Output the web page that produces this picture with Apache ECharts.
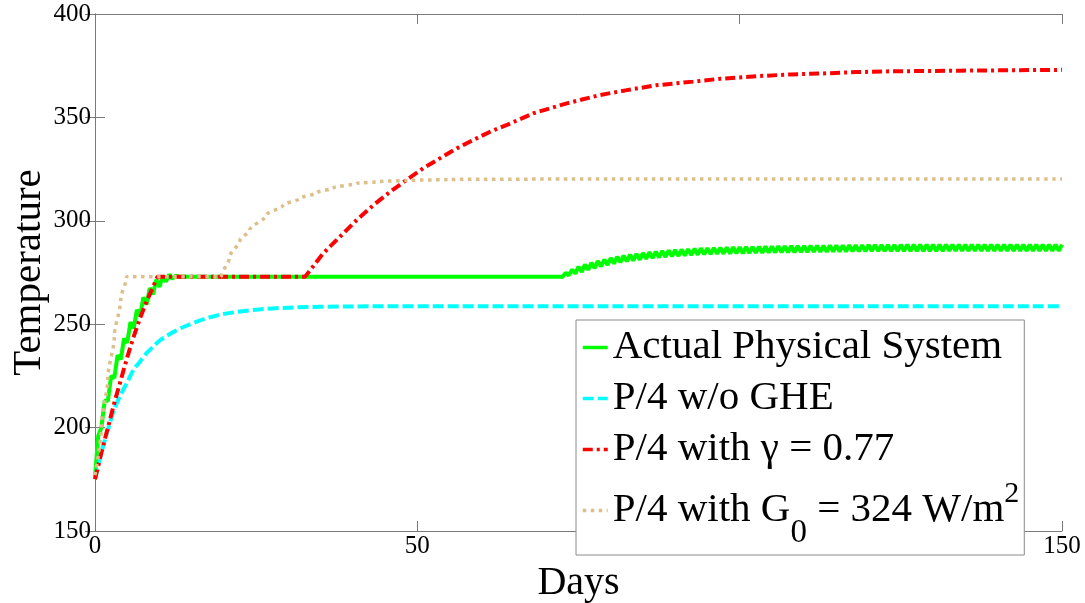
<!DOCTYPE html>
<html>
<head>
<meta charset="utf-8">
<script src="https://cdn.jsdelivr.net/npm/echarts@6/dist/echarts.min.js"></script>
<style>
  html, body { margin: 0; padding: 0; background: #fff; }
  #chart { width: 1085px; height: 603px; }
</style>
</head>
<body>
<div id="chart"></div>
<script>
// series names
const nameActual = 'Actual Physical System'
const nameNoGhe = 'P/4 w/o GHE'
const nameGamma = 'P/4 with γ = 0.77'
const nameG0 = 'P/4 with G₀ = 324 W/m²'

// actual system: daily wiggle during warm-up, flat at 273, then wiggle again
const greenEarlyDays = [0, 0.5, 1, 1.5, 2, 2.5, 3, 3.5, 4, 4.5, 5, 5.5, 6, 6.5, 7, 7.5, 8, 8.5, 9, 9.5, 10, 10.5, 11, 11.5, 12, 12.5, 13]
const greenEarlyTemps = [176, 196, 200, 213, 213, 225, 224, 235, 233, 243, 241, 251, 248, 257, 254, 263, 259.5, 267.5, 264.5, 271.5, 268, 273.5, 270.5, 274, 272, 273.5, 273]
const greenLateStart = 72
// peaks at whole days 72..150
const greenLatePeaks = [
  273.0, 274.8, 276.4, 277.8, 278.8, 279.7, 280.5, 281.3, 282.0, 282.6,
  283.1, 283.6, 284.0, 284.4, 284.8, 285.1, 285.4, 285.7, 285.9, 286.1,
  286.3, 286.5, 286.7, 286.8, 286.9, 287.0, 287.1, 287.2, 287.3, 287.4,
  287.4, 287.5, 287.6, 287.6, 287.7, 287.7, 287.8, 287.9, 287.9, 288.0,
  288.0, 288.0, 288.1, 288.1, 288.1, 288.2, 288.2, 288.2, 288.3, 288.3,
  288.3, 288.3, 288.3, 288.4, 288.4, 288.4, 288.4, 288.4, 288.4, 288.4,
  288.5, 288.5, 288.5, 288.5, 288.5, 288.5, 288.5, 288.5, 288.5, 288.5,
  288.5, 288.5, 288.5, 288.5, 288.5, 288.5, 288.5, 288.5, 288.5
]
// troughs at half days 72.5..149.5
const greenLateTroughs = [
  272.8, 273.6, 274.5, 275.3, 276.3, 277.1, 277.9, 278.7, 279.3, 279.9,
  280.4, 280.8, 281.2, 281.6, 282.0, 282.3, 282.5, 282.8, 283.0, 283.2,
  283.4, 283.6, 283.8, 283.9, 284.0, 284.1, 284.2, 284.3, 284.3, 284.4,
  284.5, 284.5, 284.6, 284.7, 284.7, 284.8, 284.8, 284.9, 284.9, 285.0,
  285.0, 285.0, 285.1, 285.1, 285.1, 285.2, 285.2, 285.2, 285.3, 285.3,
  285.3, 285.3, 285.3, 285.4, 285.4, 285.4, 285.4, 285.4, 285.4, 285.4,
  285.5, 285.5, 285.5, 285.5, 285.5, 285.5, 285.5, 285.5, 285.5, 285.5,
  285.5, 285.5, 285.5, 285.5, 285.5, 285.5, 285.5, 285.5
]

// P/4 without greenhouse effect
const cyanDays = [0, 1, 2, 3, 4, 5, 6, 7, 8, 9, 10, 12, 14, 16, 18, 20, 25, 30, 40, 60, 150]
const cyanTemps = [175, 188, 199, 209, 216, 222, 228, 232, 236, 239, 242, 246, 249, 251.5, 253.5, 255, 257, 258, 258.6, 258.7, 258.7]

// P/4 with gamma = 0.77
const redDays = [0, 1, 2, 3, 4, 5, 6, 7, 8, 9, 9.7, 32.6, 35.4, 38, 40.6, 43.2, 45.8, 48.3, 50.9, 53.5, 56.1, 58.7, 61.3, 64, 68, 73.2, 78.3, 82.5, 87, 92.8, 97, 103.1, 108, 113.5, 118, 123.8, 134.2, 142, 150]
const redTemps = [175, 188, 200, 212, 223, 234, 244, 253, 261, 268, 273, 273, 284.3, 292.3, 300.4, 307.6, 314.1, 319.7, 325.4, 330.2, 335, 339.1, 343.1, 346.5, 352, 356.8, 360.8, 363.2, 365.5, 367.3, 368.7, 370, 370.8, 371.3, 371.9, 372.3, 372.6, 372.8, 373]

// P/4 with G0 = 324 W/m2
const tanDays = [0, 1, 2, 3, 4, 4.9, 19.6, 20.9, 22.5, 24, 26.6, 29.2, 31.8, 34.4, 37, 40.6, 44, 48.3, 55, 70, 150]
const tanTemps = [177, 201, 224, 244, 262, 273, 273, 282.6, 290.7, 295.5, 302.8, 307.6, 310.8, 313.6, 316, 318.1, 319, 319.5, 320, 320.2, 320.2]

const xTicks = { min: 0, max: 150, interval: 50 }
const yTicks = { min: 150, max: 400, interval: 50 }

function pairs(xs, ys) {
  return xs.map((x, i) => [x, ys[i]])
}

const greenData = pairs(greenEarlyDays, greenEarlyTemps)
greenLatePeaks.forEach((v, i) => {
  greenData.push([greenLateStart + i, v])
  if (i < greenLateTroughs.length) greenData.push([greenLateStart + i + 0.5, greenLateTroughs[i]])
})

const serif = 'Liberation Serif'
const axisGray = '#7a7a7a'

const chart = echarts.init(document.getElementById('chart'), null, { renderer: 'canvas' })

chart.setOption({
  animation: false,
  backgroundColor: '#fff',
  grid: { left: 95, right: 23, top: 14, bottom: 72, outerBoundsMode: 'none' },
  xAxis: [
    {
      type: 'value', ...xTicks,
      name: 'Days', nameLocation: 'middle', nameGap: 21,
      nameTextStyle: { fontFamily: serif, fontSize: 40, color: '#000' },
      axisLine: { lineStyle: { color: axisGray, width: 1 } },
      axisTick: { inside: true, length: 10, lineStyle: { color: axisGray } },
      axisLabel: { fontFamily: serif, fontSize: 25, color: '#000', margin: 3 },
      splitLine: { show: false }
    },
    {
      type: 'value', ...xTicks, position: 'top',
      axisLine: { lineStyle: { color: axisGray, width: 1 } },
      axisTick: { inside: true, length: 10, lineStyle: { color: axisGray } },
      axisLabel: { show: false },
      splitLine: { show: false }
    }
  ],
  yAxis: [
    {
      type: 'value', ...yTicks,
      name: 'Temperature', nameLocation: 'middle', nameGap: 45, nameMoveOverlap: false,
      nameTextStyle: { fontFamily: serif, fontSize: 41, color: '#000' },
      axisLine: { show: true, lineStyle: { color: axisGray, width: 1 } },
      axisTick: { show: true, inside: true, length: 10, lineStyle: { color: axisGray } },
      axisLabel: { fontFamily: serif, fontSize: 25, color: '#000', margin: 4 },
      splitLine: { show: false }
    },
    {
      type: 'value', ...yTicks, position: 'right',
      axisLine: { show: true, lineStyle: { color: axisGray, width: 1 } },
      axisTick: { show: true, inside: true, length: 10, lineStyle: { color: axisGray } },
      axisLabel: { show: false },
      splitLine: { show: false }
    }
  ],
  legend: {
    orient: 'vertical',
    left: 576,
    top: 320,
    padding: [2, 5, 5, 5],
    itemGap: 0,
    itemWidth: 25,
    itemHeight: 14,
    backgroundColor: '#fff',
    borderColor: '#8a8a8a',
    borderWidth: 1,
    itemStyle: { opacity: 0 },
    lineStyle: { width: 3.5 },
    data: [nameActual, nameNoGhe, nameGamma, nameG0],
    formatter: function (name) {
      if (name === nameG0) return 'P/4 with G{sub|0} = 324 W/m{sup|2}'
      return name
    },
    textStyle: {
      fontFamily: serif, fontSize: 41, color: '#000', lineHeight: 51,
      rich: {
        sub: { fontFamily: serif, fontSize: 33, color: '#000', lineHeight: 60, padding: [42, 0, -4, 0] },
        sup: { fontFamily: serif, fontSize: 30, color: '#000', lineHeight: 60, padding: [0, 0, 32, 0] }
      }
    }
  },
  series: [
    {
      name: nameActual, type: 'line', data: greenData,
      symbol: 'none', showSymbol: false,
      lineStyle: { color: '#00ff00', width: 4 },
      itemStyle: { color: '#00ff00' }
    },
    {
      name: nameNoGhe, type: 'line', data: pairs(cyanDays, cyanTemps), smooth: 0.3,
      symbol: 'none', showSymbol: false,
      lineStyle: { color: '#00ffff', width: 4, type: [11, 4] },
      itemStyle: { color: '#00ffff' }
    },
    {
      name: nameGamma, type: 'line', data: pairs(redDays, redTemps),
      symbol: 'none', showSymbol: false,
      lineStyle: { color: '#ff0000', width: 4, type: [10, 4, 3, 4] },
      itemStyle: { color: '#ff0000' }
    },
    {
      name: nameG0, type: 'line', data: pairs(tanDays, tanTemps),
      smooth: 0.3, smoothMonotone: 'y',
      symbol: 'none', showSymbol: false,
      lineStyle: { color: '#dcbf8a', width: 3.5, type: [3.5, 4.5] },
      itemStyle: { color: '#dcbf8a' }
    }
  ]
})
</script>
</body>
</html>
